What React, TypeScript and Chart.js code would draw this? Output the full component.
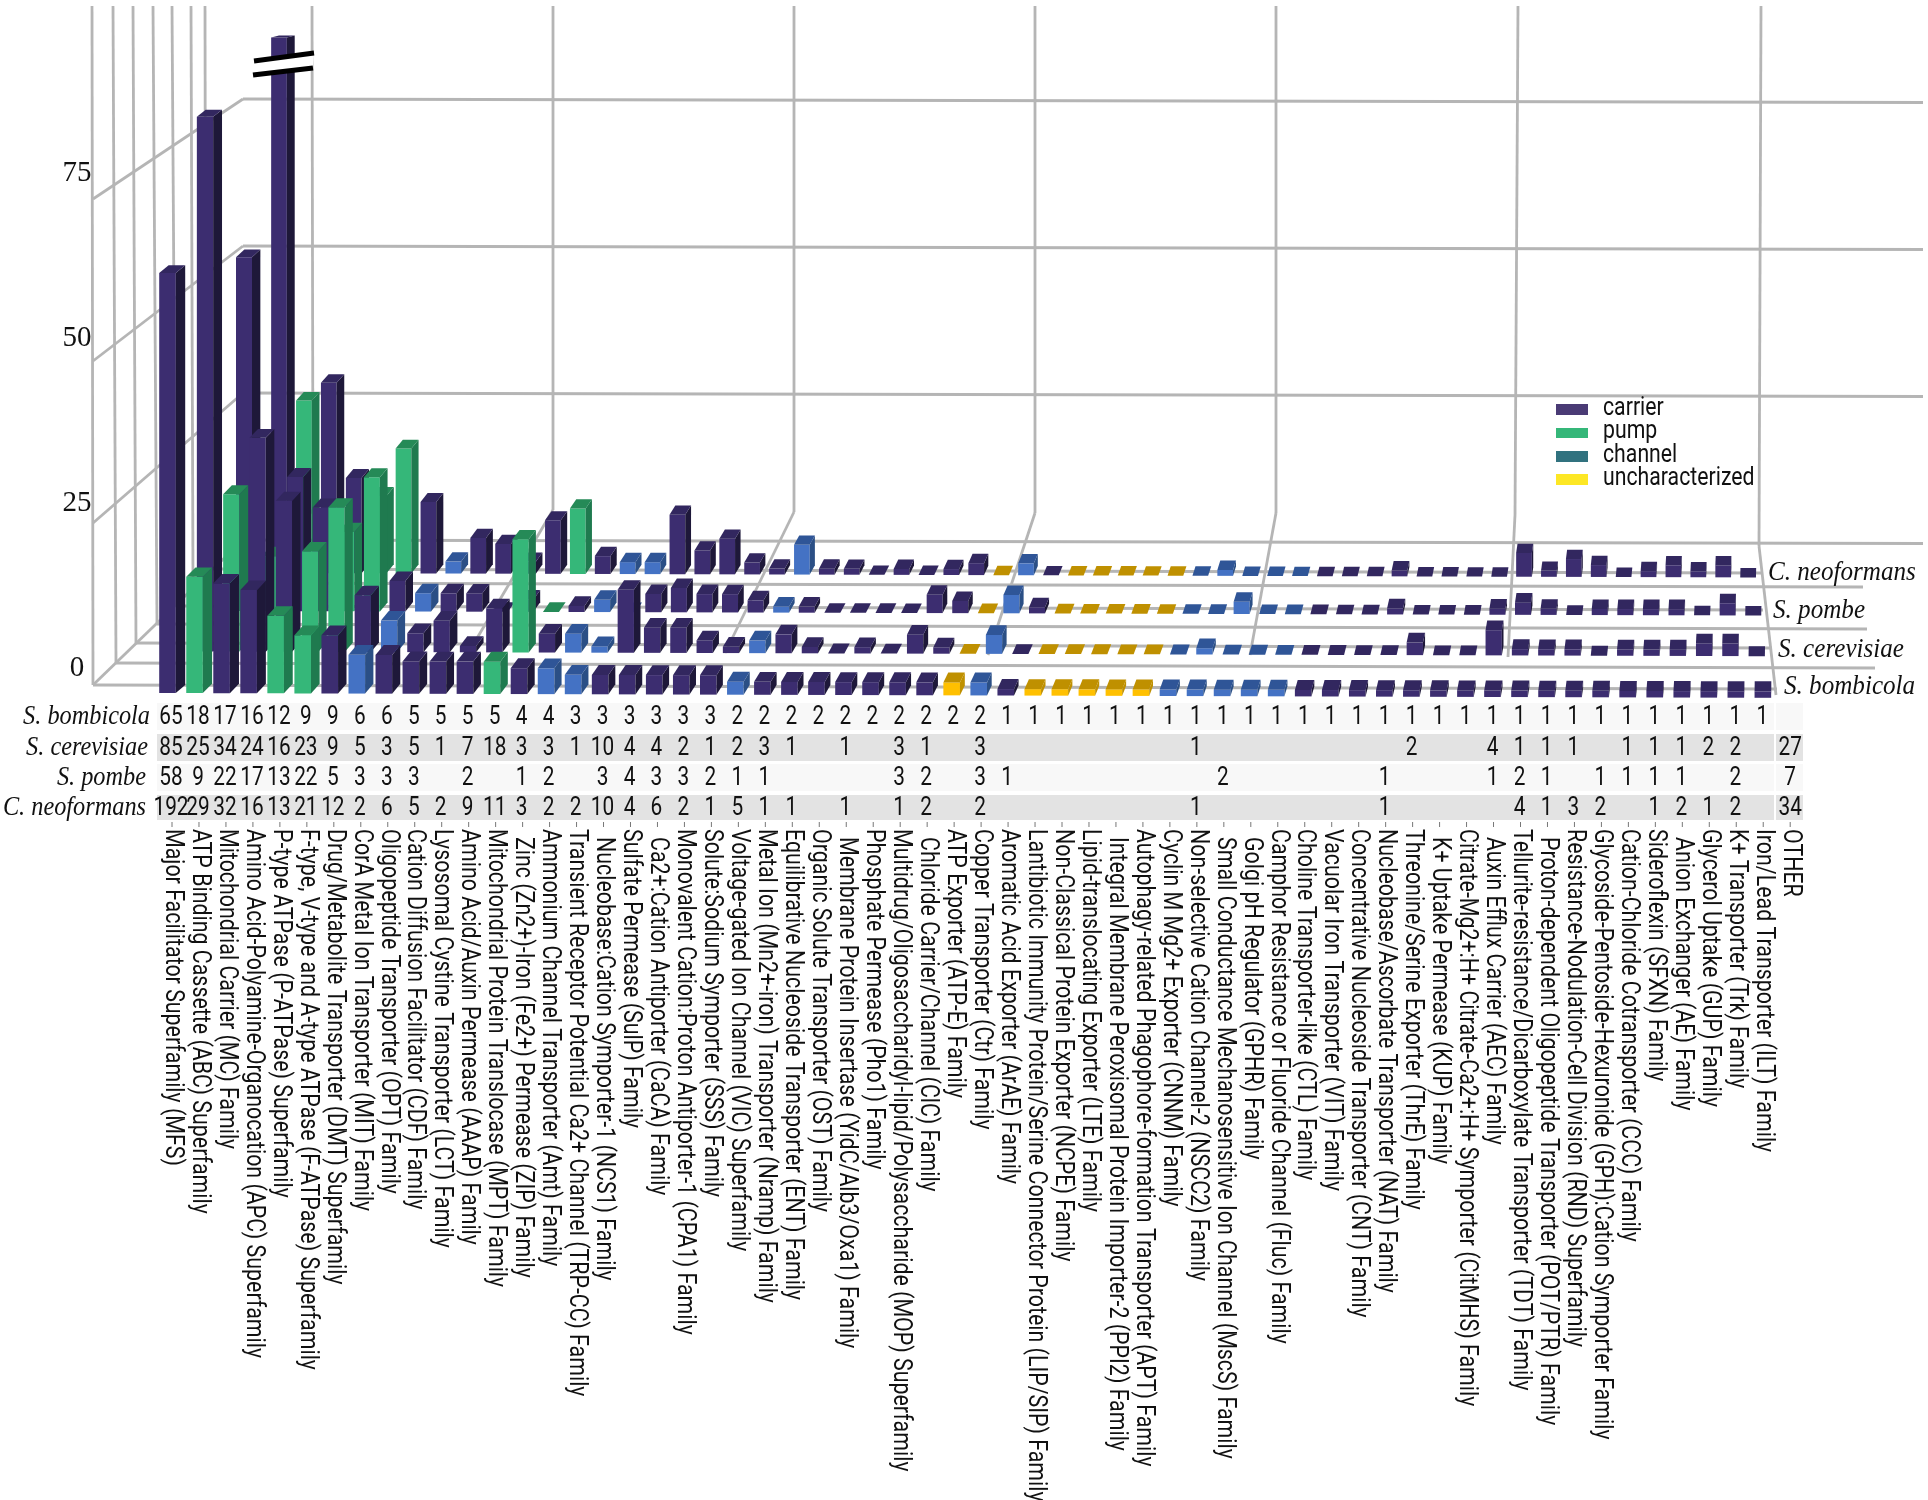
import React, { useEffect, useRef } from "react";
import { Chart, registerables } from "chart.js";

Chart.register(...registerables);

const W = 1928;
const H = 1500;

const families = [
  "Major Facilitator Superfamily (MFS)",
  "ATP Binding Cassette (ABC) Superfamily",
  "Mitochondrial Carrier (MC) Family",
  "Amino Acid-Polyamine-Organocation (APC) Superfamily",
  "P-type ATPase (P-ATPase) Superfamily",
  "F-type, V-type and A-type ATPase (F-ATPase) Superfamily",
  "Drug/Metabolite Transporter (DMT) Superfamily",
  "CorA Metal Ion Transporter (MIT) Family",
  "Oligopeptide Transporter (OPT) Family",
  "Cation Diffusion Facilitator (CDF) Family",
  "Lysosomal Cystine Transporter (LCT) Family",
  "Amino Acid/Auxin Permease (AAAP) Family",
  "Mitochondrial Protein Translocase (MPT) Family",
  "Zinc (Zn2+)-Iron (Fe2+) Permease (ZIP) Family",
  "Ammonium Channel Transporter (Amt) Family",
  "Transient Receptor Potential Ca2+ Channel (TRP-CC) Family",
  "Nucleobase:Cation Symporter-1 (NCS1) Family",
  "Sulfate Permease (SulP) Family",
  "Ca2+:Cation Antiporter (CaCA) Family",
  "Monovalent Cation:Proton Antiporter-1 (CPA1) Family",
  "Solute:Sodium Symporter (SSS) Family",
  "Voltage-gated Ion Channel (VIC) Superfamily",
  "Metal Ion (Mn2+-iron) Transporter (Nramp) Family",
  "Equilibrative Nucleoside Transporter (ENT) Family",
  "Organic Solute Transporter (OST) Family",
  "Membrane Protein Insertase (YidC/Alb3/Oxa1) Family",
  "Phosphate Permease (Pho1) Family",
  "Multidrug/Oligosaccharidyl-lipid/Polysaccharide (MOP) Superfamily",
  "Chloride Carrier/Channel (ClC) Family",
  "ATP Exporter (ATP-E) Family",
  "Copper Transporter (Ctr) Family",
  "Aromatic Acid Exporter (ArAE) Family",
  "Lantibiotic Immunity Protein/Serine Connector Protein (LIP/SIP) Family",
  "Non-Classical Protein Exporter (NCPE) Family",
  "Lipid-translocating Exporter (LTE) Family",
  "Integral Membrane Peroxisomal Protein Importer-2 (PPI2) Family",
  "Autophagy-related Phagophore-formation Transporter (APT) Family",
  "Cyclin M Mg2+ Exporter (CNNM) Family",
  "Non-selective Cation Channel-2 (NSCC2) Family",
  "Small Conductance Mechanosensitive Ion Channel (MscS) Family",
  "Golgi pH Regulator (GPHR) Family",
  "Camphor Resistance or Fluoride Channel (Fluc) Family",
  "Choline Transporter-like (CTL) Family",
  "Vacuolar Iron Transporter (VIT) Family",
  "Concentrative Nucleoside Transporter (CNT) Family",
  "Nucleobase/Ascorbate Transporter (NAT) Family",
  "Threonine/Serine Exporter (ThrE) Family",
  "K+ Uptake Permease (KUP) Family",
  "Citrate-Mg2+:H+ Citrate-Ca2+:H+ Symporter (CitMHS) Family",
  "Auxin Efflux Carrier (AEC) Family",
  "Tellurite-resistance/Dicarboxylate Transporter (TDT) Family",
  "Proton-dependent Oligopeptide Transporter (POT/PTR) Family",
  "Resistance-Nodulation-Cell Division (RND) Superfamily",
  "Glycoside-Pentoside-Hexuronide (GPH):Cation Symporter Family",
  "Cation-Chloride Cotransporter (CCC) Family",
  "Sideroflexin (SFXN) Family",
  "Anion Exchanger (AE) Family",
  "Glycerol Uptake (GUP) Family",
  "K+ Transporter (Trk) Family",
  "Iron/Lead Transporter (ILT) Family",
  "OTHER",
];

// blank table cells are 0
const bombicola = [65,18,17,16,12,9,9,6,6,5,5,5,5,4,4,3,3,3,3,3,3,2,2,2,2,2,2,2,2,2,2,1,1,1,1,1,1,1,1,1,1,1,1,1,1,1,1,1,1,1,1,1,1,1,1,1,1,1,1,1];
const cerevisiae = [85,25,34,24,16,23,9,5,3,5,1,7,18,3,3,1,10,4,4,2,1,2,3,1,0,1,0,3,1,0,3,0,0,0,0,0,0,0,1,0,0,0,0,0,0,0,2,0,0,4,1,1,1,0,1,1,1,2,2,0];
const pombe = [58,9,22,17,13,22,5,3,3,3,0,2,0,1,2,0,3,4,3,3,2,1,1,0,0,0,0,3,2,0,3,1,0,0,0,0,0,0,0,2,0,0,0,0,0,1,0,0,0,1,2,1,0,1,1,1,1,0,2,0];
const neoformans = [192,29,32,16,13,21,12,2,6,5,2,9,11,3,2,2,10,4,6,2,1,5,1,1,0,1,0,1,2,0,2,0,0,0,0,0,0,0,1,0,0,0,0,0,0,1,0,0,0,0,4,1,3,2,0,1,2,1,2,0];
const otherCounts = [null, 27, 7, 34];

const speciesNames = ["S. bombicola", "S. cerevisiae", "S. pombe", "C. neoformans"];
const seriesValues = [bombicola, cerevisiae, pombe, neoformans];

// c carrier, p pump, h channel, u uncharacterized
const transportClass = [
  "c","p","c","c","p","p","c","h","c","c","c","c","p","c","h","h","c","c","c","c","c","h","c","c","c","c","c","c","c","u","h","c","u","u","u","u","u","h","h","h","h","h","c","c","c","c","c","c","c","c","c","c","c","c","c","c","c","c","c","c",
];

const legendNames = ["carrier", "pump", "channel", "uncharacterized"];
const legendColors = ["#4a3b75", "#35b779", "#31727f", "#fde725"];
const wallTicks = [0, 25, 50, 75];
const yBreakValue = 90;
const indentedLabels = new Set([13, 16, 18, 25, 28, 35, 39, 40, 47, 49, 51, 56]);

const FRONT: Record<string, string> = { c: "#3c2d70", p: "#35b779", h: "#4472c4", u: "#ffc000" };
const SIDE: Record<string, string> = { "#3c2d70": "#1e1839", "#35b779": "#1f7a4f", "#4472c4": "#2b4f85", "#ffc000": "#bf9000" };
const TOP: Record<string, string> = { "#3c2d70": "#32275f", "#35b779": "#258a57", "#4472c4": "#2f5597", "#ffc000": "#bf9000" };

// row geometry: pixel of column 0, step per column, baseline, px per unit, bar width
const ROWS = [
  { a: 167.5, b: 27.04, base: 693, u: 6.46, w: 16.6 },
  { a: 205, b: 26.3, base: 651.5, u: 6.29, w: 16.3 },
  { a: 244, b: 25.58, base: 611, u: 6.1, w: 16 },
  { a: 279, b: 24.9, base: 573, u: 5.95, w: 15.7 },
];
const SHEAR = 0.003;

const xAxis = (a: number, b: number) => ({
  type: "linear", axis: "x", display: false, offset: false, bounds: "data",
  min: -a / b, max: (W - a) / b,
});
const yAxis = (base: number, u: number) => ({
  type: "linear", axis: "y", display: false, offset: false, bounds: "data",
  min: (base - H) / u, max: base / u,
});

const FONT = "Roboto";
const SERIF = '"Liberation Serif"';
const GRID = "#b5b5b5";

function squeezed(ctx: any, text: string, x: number, y: number, sx: number, rot = 0) {
  ctx.save();
  ctx.translate(x, y);
  if (rot) ctx.rotate(rot);
  ctx.scale(sx, 1);
  ctx.fillText(text, 0, 0);
  ctx.restore();
}

function line(ctx: any, x1: number, y1: number, x2: number, y2: number) {
  ctx.beginPath();
  ctx.moveTo(x1, y1);
  ctx.lineTo(x2, y2);
  ctx.stroke();
}

function poly(ctx: any, pts: number[][], color: string) {
  ctx.fillStyle = color;
  ctx.beginPath();
  pts.forEach((p, i) => (i ? ctx.lineTo(p[0], p[1]) : ctx.moveTo(p[0], p[1])));
  ctx.closePath();
  ctx.fill();
}

const wallPlugin = {
  id: "walls",
  beforeDatasetsDraw(chart: any) {
    const { ctx, scales } = chart;
    ctx.save();
    ctx.fillStyle = "#fff";
    ctx.fillRect(0, 0, W, H);
    ctx.strokeStyle = GRID;
    ctx.lineWidth = 2.8;
    // side wall verticals and floor lines
    const floor = [
      [92, 93, 685, 93, 685, 1777, 689],
      [113, 116, 663, 116, 663, 1875, 668],
      [133, 136, 643, 136, 643, 1772, 648],
      [153, 157, 624, 157, 624, 1867, 629],
      [172, 176, 606, 176, 606, 1763, 610],
      [191, 193, 583, 199, 583, 1863, 587],
      [205, 206, 569, 216, 569, 1762, 573],
    ];
    floor.forEach(([top, vx, vy, x, y, xe, ye]) => {
      line(ctx, top, 6, vx, vy);
      line(ctx, x, y, xe, ye);
    });
    // value levels on both walls
    wallTicks.forEach((t) => {
      const yf = scales.yWallFront.getPixelForValue(t);
      const yb = scales.yWallBack.getPixelForValue(t);
      line(ctx, 93, yf, 243, yb);
      line(ctx, 243, yb, 1923, yb + 3.5);
    });
    // back wall verticals and their floor lines
    const back = [
      [312, 313, 510, 190, 650],
      [553, 553, 510, 470, 650],
      [794, 794, 512, 725, 653],
      [1035, 1035, 513, 988, 655],
      [1276, 1276, 513, 1250, 655],
      [1518, 1515, 515, 1508, 657],
      [1761, 1759, 546, 1776, 695],
    ];
    back.forEach(([top, kx, ky, ex, ey]) => {
      line(ctx, top, 6, kx, ky);
      line(ctx, kx, ky, ex, ey);
    });
    ctx.restore();
  },
};

const bar3dPlugin = {
  id: "bar3d",
  beforeDatasetDraw(chart: any, args: any) {
    const { ctx } = chart;
    const meta = args.meta;
    const r = args.index;
    const x0 = meta.data[0].x;
    ctx.save();
    meta.data.forEach((el: any, i: number) => {
      const front = el.options.backgroundColor;
      const sh = SHEAR * (el.x - x0);
      const l = el.x - el.width / 2;
      const rr = el.x + el.width / 2;
      const y = el.y + sh;
      const base = el.base + sh;
      const capped = seriesValues[r][i] > yBreakValue;
      const dx = (0.0058 - 0.0002 * r) * (1790 - el.x);
      const dy = capped ? 2 : 6.5 + 3.5 * (y / 690);
      if (base - y > 0.1) {
        poly(ctx, [[l, y], [rr, y], [rr, base], [l, base]], front);
        poly(ctx, [[rr, y], [rr + dx, y - dy], [rr + dx, base - dy], [rr, base]], SIDE[front]);
      }
      poly(ctx, [[l, y], [rr, y], [rr + dx, y - dy], [l + dx, y - dy]], TOP[front]);
    });
    ctx.restore();
    return false;
  },
};

const overlayPlugin = {
  id: "overlay",
  afterDatasetsDraw(chart: any) {
    const { ctx, scales } = chart;
    const xT = scales.xTable;
    ctx.save();

    // axis break on the tallest bar
    poly(ctx, [[254, 61], [314, 53], [313, 68], [253, 75]], "#fff");
    ctx.strokeStyle = "#000";
    ctx.lineWidth = 5;
    line(ctx, 254, 61, 314, 53);
    line(ctx, 253, 75, 313, 68);

    // value axis numbers
    ctx.fillStyle = "#111";
    ctx.font = `29px ${SERIF}`;
    ctx.textAlign = "center";
    ctx.textBaseline = "middle";
    wallTicks.forEach((t) => ctx.fillText(String(t), 77, scales.yWallLabel.getPixelForValue(t)));

    // species labels at the row ends
    ctx.font = `italic 27px ${SERIF}`;
    ctx.textAlign = "left";
    const ends = [[1784, 687], [1778, 650], [1773, 611], [1768, 573]];
    speciesNames.forEach((s, i) => squeezed(ctx, s, ends[i][0], ends[i][1], 0.93));

    // table
    const bands = [[703, 730], [734, 761], [764, 791], [795, 820]];
    const fills = ["#f8f8f8", "#e3e3e3", "#f8f8f8", "#e3e3e3"];
    const rowEnds = [150, 148, 146, 146];
    bands.forEach(([t, b], i) => {
      ctx.fillStyle = fills[i];
      ctx.fillRect(157, t, 1774 - 157, b - t);
      ctx.fillRect(1776, t, 27, b - t);
    });
    ctx.fillStyle = "#111";
    speciesNames.forEach((s, i) => {
      const yc = (bands[i][0] + bands[i][1]) / 2;
      ctx.font = `italic 27px ${SERIF}`;
      ctx.textAlign = "right";
      squeezed(ctx, s, rowEnds[i], yc, 0.9);
      ctx.font = `26px ${FONT}`;
      ctx.textAlign = "center";
      seriesValues[i].forEach((v, c) => {
        if (v) squeezed(ctx, String(v), xT.getPixelForValue(c) - 1, yc + 1, 0.8);
      });
      const o = otherCounts[i];
      if (o) squeezed(ctx, String(o), xT.getPixelForValue(60), yc + 1, 0.8);
    });

    // category ticks and labels
    ctx.strokeStyle = "#777";
    ctx.lineWidth = 1;
    ctx.textAlign = "left";
    ctx.font = `25px ${FONT}`;
    families.forEach((name, c) => {
      const x = xT.getPixelForValue(c);
      line(ctx, x, 822, x, 827);
      squeezed(ctx, name, x, 829 + (indentedLabels.has(c) ? 8 : 0), 0.855, Math.PI / 2);
    });

    // legend
    const ly = [[404, 415], [428, 438], [451, 462], [474, 485]];
    legendNames.forEach((n, i) => {
      ctx.fillStyle = legendColors[i];
      ctx.fillRect(1556, ly[i][0], 32, ly[i][1] - ly[i][0]);
      ctx.fillStyle = "#111";
      ctx.textAlign = "left";
      squeezed(ctx, n, 1603, (ly[i][0] + ly[i][1]) / 2 - 1, 0.85);
    });
    ctx.restore();
  },
};

export default function App() {
  const ref = useRef<HTMLCanvasElement>(null);
  useEffect(() => {
    const scales: any = {
      xTable: xAxis(172, 26.97),
      yWallFront: yAxis(685, 6.48),
      yWallBack: yAxis(540, 5.88),
      yWallLabel: yAxis(668, 6.6),
    };
    ROWS.forEach((r, i) => {
      scales[`x${i}`] = xAxis(r.a, r.b);
      scales[`y${i}`] = yAxis(r.base, r.u);
    });
    const datasets = seriesValues.map((vals, r) => ({
      label: speciesNames[r],
      data: vals.map((v, i) => ({ x: i, y: Math.min(v, yBreakValue) })),
      xAxisID: `x${r}`,
      yAxisID: `y${r}`,
      backgroundColor: transportClass.map((c) => FRONT[c]),
      grouped: false,
      categoryPercentage: 1,
      barPercentage: ROWS[r].w / ROWS[r].b,
      clip: false,
    }));
    const chart = new Chart(ref.current as HTMLCanvasElement, {
      type: "bar",
      data: { labels: families, datasets },
      options: {
        responsive: false,
        animation: false,
        layout: { padding: 0 },
        scales,
        plugins: { legend: { display: false }, tooltip: { enabled: false }, title: { display: false } },
      },
      plugins: [wallPlugin, bar3dPlugin, overlayPlugin],
    } as any);
    return () => chart.destroy();
  }, []);
  return (
    <canvas
      ref={ref}
      width={W}
      height={H}
      style={{ position: "absolute", left: 0, top: 0, width: W, height: H, display: "block" }}
    />
  );
}
